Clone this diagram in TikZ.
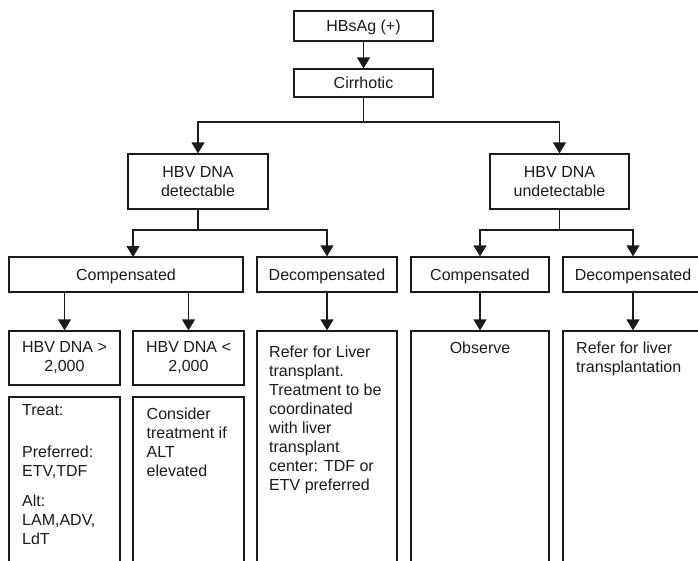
\documentclass[tikz,border=0pt]{standalone}
\usepackage{fontspec}
\setmainfont{Liberation Sans}
\usetikzlibrary{arrows.meta}
\definecolor{ink}{HTML}{1A1A1A}
\begin{document}
\begin{tikzpicture}[x=1pt,y=-1pt,
  font=\fontsize{16}{19}\selectfont,
  box/.style={draw=ink, line width=1.25pt, rectangle, inner sep=0pt, text=ink, align=center},
  one/.style={text height=11.5pt, text depth=0pt},
  txt/.style={inner sep=0pt, text=ink, align=left, anchor=north west},
  arr/.style={draw=ink, line width=1.25pt, -{Triangle[width=13pt,length=11pt]}}]
\useasboundingbox (0,0) rectangle (698,560);
\clip (0,0) rectangle (698,560);

% top boxes
\node[box, one, minimum width=139pt, minimum height=30pt] (hbs) at (363.5,26) {HBsAg (+)};
\node[box, one, minimum width=139pt, minimum height=28pt] (cir) at (363.5,83) {Cirrhotic};
\node[box, minimum width=140pt, minimum height=55pt] (det) at (198,181.5) {HBV DNA\\detectable};
\node[box, minimum width=139pt, minimum height=55pt] (und) at (559.5,181.5) {HBV DNA\\undetectable};

% second level
\node[box, one, minimum width=234pt, minimum height=35pt] (comp1) at (126,274.5) {Compensated};
\node[box, one, minimum width=140pt, minimum height=35pt] (decomp1) at (327,274.5) {Decompensated};
\node[box, one, minimum width=138pt, minimum height=35pt] (comp2) at (480,274.5) {Compensated};
\node[box, one, minimum width=140pt, minimum height=35pt] (decomp2) at (633,274.5) {Decompensated};

% third level
\node[box, minimum width=111pt, minimum height=54pt] (gt) at (64.5,358) {HBV DNA >\\2,000};
\node[box, minimum width=111pt, minimum height=54pt] (lt) at (188.5,358) {HBV DNA <\\2,000};
\node[box, minimum width=111pt, minimum height=178pt] (treat) at (64.5,486) {};
\node[box, minimum width=111pt, minimum height=178pt] (consider) at (188.5,486) {};
\node[box, minimum width=140pt, minimum height=244pt] (refer1) at (327,453) {};
\node[box, minimum width=138pt, minimum height=244pt] (observe) at (480,453) {};
\node[box, minimum width=140pt, minimum height=244pt] (refer2) at (633,453) {};

% texts in tall boxes
\node[txt] (treatT) at (22,404) {Treat:\\[23.7pt]Preferred:\\ETV,TDF\\[10.3pt]Alt:\\LAM,ADV,\\LdT};
\node[txt] (considerT) at (146.5,408) {Consider\\treatment if\\ALT\\elevated};
\node[txt] (refer1T) at (269,346) {Refer for Liver\\transplant.\\Treatment to be\\coordinated\\with liver\\transplant\\center: TDF or\\ETV preferred};
\node[txt, anchor=north, align=center] (observeT) at (480,342) {Observe};
\node[txt] (refer2T) at (576,342) {Refer for liver\\transplantation};

% connectors
\draw[arr] (hbs.south) -- (cir.north);
\coordinate (j1) at (363.5,122);
\draw[arr] (cir.south) -- (j1) -| (det.north);
\draw[arr] (j1) -| (und.north);

\coordinate (j2) at (198,230);
\coordinate (c1in) at (133,257);
\draw[arr] (det.south) -- (j2) -| (c1in);
\draw[arr] (j2) -| (decomp1.north);

\coordinate (j3) at (559.5,230);
\draw[arr] (und.south) -- (j3) -| (comp2.north);
\draw[arr] (j3) -| (decomp2.north);

\draw[arr] (gt.north |- comp1.south) -- (gt.north);
\draw[arr] (lt.north |- comp1.south) -- (lt.north);
\draw[arr] (decomp1.south) -- (refer1.north);
\draw[arr] (comp2.south) -- (observe.north);
\draw[arr] (decomp2.south) -- (refer2.north);
\end{tikzpicture}
\end{document}
